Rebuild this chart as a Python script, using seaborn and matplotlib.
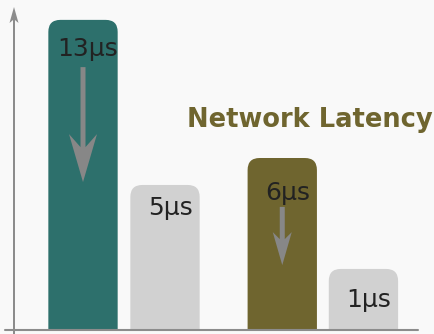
import matplotlib
matplotlib.use("Agg")
import numpy as np
import pandas as pd
import seaborn as sns
import matplotlib.pyplot as plt
from matplotlib.patches import FancyBboxPatch, Polygon
from matplotlib.lines import Line2D
from matplotlib.transforms import IdentityTransform

# ---- data ----
labels = ["13μs", "5μs", "6μs", "1μs"]
latency_us = [13, 5, 6, 1]
bar_heights = [13.0, 6.08, 7.21, 2.56]      # drawn heights
positions = [0.0, 1.0, 2.43, 3.42]
bar_colors = ["#2d706c", "#d1d1d1", "#6f652f", "#d1d1d1"]
title = "Network Latency"

# ---- layout / style ----
BG = "#f9f9f9"
W, H = 435, 334
label_drop_px = [36, 30, 42, 38]
SPINE = "#8c8c8c"
ARROW = "#878787"

sns.set_theme(style="white")
plt.rcParams["font.family"] = ["DejaVu Sans"]

fig = plt.figure(figsize=(W / 100, H / 100), dpi=100, facecolor=BG)
ax = fig.add_axes([14 / W, 4 / H, 404 / W, 323 / H])
ax.set_facecolor(BG)

df = pd.DataFrame({"pos": positions, "height": bar_heights, "label": labels})
sns.barplot(data=df, x="pos", y="height", hue="label",
            palette=dict(zip(labels, bar_colors)), native_scale=True,
            width=0.854, dodge=False, legend=False, saturation=1, ax=ax)

ax.set_xlim(-0.8415, -0.8415 + 404 / 82)
ax.set_ylim(0, 13.54)
ax.set_xlabel("")
ax.set_ylabel("")
ax.set_xticks([])
ax.set_yticks([])
for s in ax.spines.values():
    s.set_visible(False)

px_x = 82.0
px_y = 323 / 13.54
r_px = 12
rx, ry = r_px / px_x, r_px / px_y
for p in list(ax.patches):
    x, w, h = p.get_x(), p.get_width(), p.get_height()
    fc = p.get_facecolor()
    p.remove()
    fb = FancyBboxPatch((x, -ry), w, h + ry,
                        boxstyle=f"round,pad=0,rounding_size={rx}",
                        mutation_aspect=ry / rx, fc=fc, ec="none", zorder=2)
    ax.add_patch(fb)

for pos, h, lab, drop in zip(positions, bar_heights, labels, label_drop_px):
    ax.annotate(lab, xy=(pos, h), xytext=(5 * 0.72, -drop * 0.72),
                textcoords="offset points", ha="center", va="baseline",
                fontsize=18, color="#222222", zorder=4)


def arrow_poly(x0, y0, x1, y1, shaft, hw, hl, notch, color, target, trans):
    # vertical arrow, display coords, pointing from (x0,y0) to (x1,y1)
    d = 1 if y0 > y1 else -1  # head direction down if d=1
    s = shaft / 2
    yj = y1 + d * (hl - notch)
    yc = y1 + d * hl
    pts = [(x0 - s, y0), (x0 - s, yj), (x0 - hw / 2, yc), (x1, y1),
           (x0 + hw / 2, yc), (x0 + s, yj), (x0 + s, y0)]
    poly = Polygon(pts, closed=True, fc=color, ec="none", transform=trans, zorder=3)
    target.add_artist(poly)


fig.canvas.draw()
arrows = [(positions[0], 11.02, 6.20, 5, 28, 48, 13),
          (positions[2], 5.16, 2.72, 5, 19, 33, 7)]
for xa, ys, ye, sw, hw, hl, nt in arrows:
    (dx0, dy0) = ax.transData.transform((xa, ys))
    (dx1, dy1) = ax.transData.transform((xa, ye))
    arrow_poly(dx0, dy0, dx1, dy1, sw, hw, hl, nt, ARROW, ax, IdentityTransform())

# axis lines drawn beyond the plotting area
arrow_poly(14, 0, 14, H - 7, 2, 9, 16, 3, SPINE, fig, IdentityTransform())
fig.add_artist(Line2D([5, 418], [4, 4], transform=IdentityTransform(),
                      color=SPINE, lw=1.5))

fig.text(310 / W, (H - 127) / H, title, ha="center", va="baseline",
         fontsize=18.5, fontweight="bold", color="#6f652f")

fig.savefig("out.png", dpi=100, facecolor=BG)
